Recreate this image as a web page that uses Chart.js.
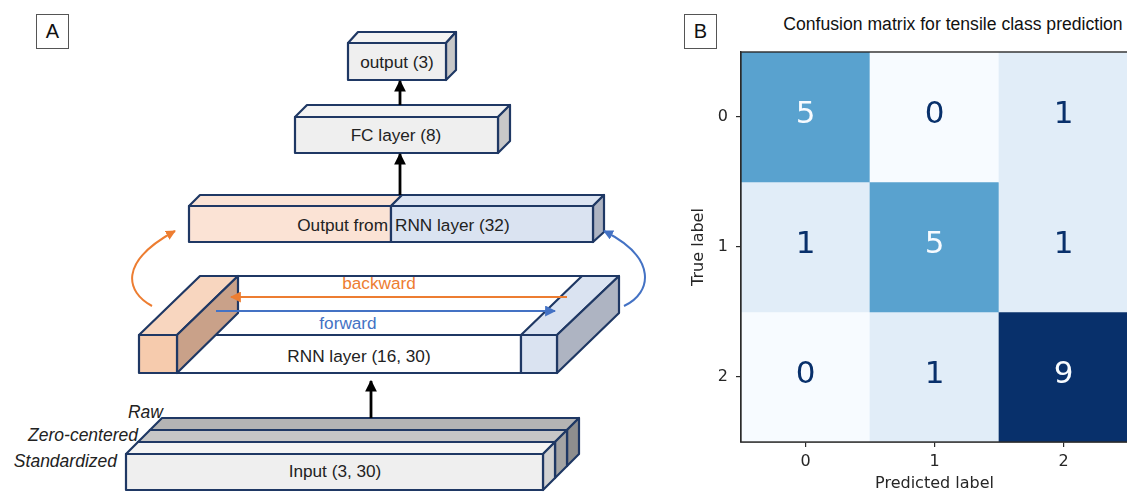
<!DOCTYPE html>
<html>
<head>
<meta charset="utf-8">
<script src="https://cdn.jsdelivr.net/npm/chart.js@4.4.1/dist/chart.umd.min.js"></script>
<style>
  html, body { margin: 0; padding: 0; background: #fff; }
  body { width: 1127px; height: 492px; overflow: hidden; position: relative; }
  #diagram { position: absolute; left: 0; top: 0; }
  #panelB { position: absolute; left: 660px; top: 0; }
  .tag { position: absolute; width: 33px; height: 35px; border: 1px solid #555; box-sizing: border-box;
         font: 20px "Liberation Sans", Arial, sans-serif; color: #111; text-align: center; line-height: 33px; }
  #cmTitle { position: absolute; top: 14px; left: 780px; width: 346px; text-align: center; white-space: nowrap;
             font: 17.6px "Liberation Sans", Arial, sans-serif; color: #111; }
</style>
</head>
<body>

<!-- Panel A: network architecture sketch -->
<svg id="diagram" width="660" height="492" xmlns="http://www.w3.org/2000/svg"
     font-family="Liberation Sans, Arial, sans-serif" font-size="17.2" fill="#222">
  <defs>
    <marker id="hBlack" viewBox="0 0 10 10" refX="9" refY="5" markerWidth="4.2" markerHeight="4.2" orient="auto">
      <path d="M0,0 L10,5 L0,10 z" fill="#000"/>
    </marker>
    <marker id="hOrange" viewBox="0 0 10 10" refX="9" refY="5" markerWidth="5" markerHeight="5" orient="auto">
      <path d="M0,0 L10,5 L0,10 z" fill="#ed7d31"/>
    </marker>
    <marker id="hBlue" viewBox="0 0 10 10" refX="9" refY="5" markerWidth="5" markerHeight="5" orient="auto">
      <path d="M0,0 L10,5 L0,10 z" fill="#4472c4"/>
    </marker>
  </defs>

  <g stroke="#1f3864" stroke-width="2.2" stroke-linejoin="round">
    <!-- output (3) -->
    <polygon points="348,43 358,32 456,32 446,43" fill="#f3f3f3"/>
    <polygon points="446,43 456,32 456,70 446,80" fill="#c8c8c8"/>
    <rect x="348" y="43" width="98" height="37" fill="#efefef"/>

    <!-- FC layer (8) -->
    <polygon points="295,117 307,105 510,105 498,117" fill="#f3f3f3"/>
    <polygon points="498,117 510,105 510,141 498,153" fill="#c8c8c8"/>
    <rect x="295" y="117" width="203" height="36" fill="#efefef"/>

    <!-- Output from RNN layer (32) -->
    <polygon points="189,206 200,195 402,195 391,206" fill="#fbe3d5"/>
    <polygon points="391,206 402,195 604,195 593,206" fill="#dce4f2"/>
    <polygon points="593,206 604,195 604,232 593,242" fill="#aeb4c2"/>
    <rect x="189" y="206" width="202" height="36" fill="#fbe3d5"/>
    <rect x="391" y="206" width="202" height="36" fill="#dae3f1"/>

    <!-- RNN layer (16, 30) -->
    <line x1="238" y1="276" x2="582" y2="276"/>
    <rect x="177" y="335" width="344" height="38" fill="#fff"/>
    <polygon points="139,335 200,276 238,276 177,335" fill="#f8d6bf"/>
    <polygon points="177,335 238,276 238,313 177,373" fill="#c9a189"/>
    <rect x="139" y="335" width="38" height="38" fill="#f6cbad"/>
    <polygon points="521,335 582,276 619,276 557,335" fill="#dae3f1"/>
    <polygon points="557,335 619,276 619,313 557,373" fill="#aeb4c2"/>
    <rect x="521" y="335" width="36" height="38" fill="#dae3f1"/>

    <!-- Input (3, 30): Raw, Zero-centered, Standardized slabs -->
    <polygon points="150,430 162,418 579,418 567,430" fill="#b4b4b4"/>
    <polygon points="567,430 579,418 579,454 567,466" fill="#8e8e8e"/>
    <rect x="150" y="430" width="417" height="36" fill="#b4b4b4"/>
    <polygon points="138,442 150,430 567,430 555,442" fill="#c6c6c6"/>
    <polygon points="555,442 567,430 567,466 555,478" fill="#a4a4a4"/>
    <rect x="138" y="442" width="417" height="36" fill="#c6c6c6"/>
    <polygon points="126,454 138,442 555,442 543,454" fill="#f4f4f4"/>
    <polygon points="543,454 555,442 555,478 543,490" fill="#d2d2d2"/>
    <rect x="126" y="454" width="417" height="36" fill="#efefef"/>
  </g>

  <!-- direction arrows inside the RNN layer -->
  <line x1="567" y1="297" x2="231" y2="297" stroke="#ed7d31" stroke-width="2.2" marker-end="url(#hOrange)"/>
  <line x1="216" y1="311" x2="555" y2="311" stroke="#4472c4" stroke-width="2.2" marker-end="url(#hBlue)"/>
  <path d="M152,306 C126,292 118,262 175,231" fill="none" stroke="#ed7d31" stroke-width="2" marker-end="url(#hOrange)"/>
  <path d="M624,306 C652,293 658,258 604,231" fill="none" stroke="#4472c4" stroke-width="2" marker-end="url(#hBlue)"/>

  <!-- data flow arrows -->
  <g stroke="#000" stroke-width="2.8" marker-end="url(#hBlack)">
    <line x1="400" y1="105" x2="400" y2="81"/>
    <line x1="400" y1="195" x2="400" y2="154"/>
    <line x1="371" y1="418" x2="371" y2="381"/>
  </g>

  <!-- labels -->
  <g dominant-baseline="central">
    <text x="397" y="62" text-anchor="middle">output (3)</text>
    <text x="396" y="135" text-anchor="middle">FC layer (8)</text>
    <text x="388" y="225" text-anchor="end">Output from</text>
    <text x="395" y="225">RNN layer (32)</text>
    <text x="379" y="283" text-anchor="middle" fill="#ed7d31">backward</text>
    <text x="348" y="323" text-anchor="middle" fill="#4472c4">forward</text>
    <text x="359" y="356" text-anchor="middle">RNN layer (16, 30)</text>
    <text x="335" y="471" text-anchor="middle">Input (3, 30)</text>
    <g font-style="italic" text-anchor="end" font-size="17.5">
      <text x="163" y="412">Raw</text>
      <text x="138" y="435">Zero-centered</text>
      <text x="117" y="461">Standardized</text>
    </g>
  </g>
</svg>

<div class="tag" style="left:36px; top:14px;">A</div>
<div class="tag" style="left:684px; top:14px;">B</div>
<div id="cmTitle">Confusion matrix for tensile class prediction</div>

<!-- Panel B: confusion matrix -->
<canvas id="panelB" width="480" height="492"></canvas>

<script>
// Class labels (ticks on both axes)
const classLabels = ['0', '1', '2'];
// Confusion matrix counts: rows = true label, columns = predicted label
const rowTrue0 = [5, 0, 1];
const rowTrue1 = [1, 5, 1];
const rowTrue2 = [0, 1, 9];
const confusionRows = [rowTrue0, rowTrue1, rowTrue2];

const maxCount = Math.max(...confusionRows.flat());

// matplotlib "Blues" colormap stops
const bluesStops = [
  [247, 251, 255], [222, 235, 247], [198, 219, 239], [158, 202, 225], [107, 174, 214],
  [66, 146, 198], [33, 113, 181], [8, 81, 156], [8, 48, 107]
];
function blues(t) {
  t = Math.min(1, Math.max(0, t));
  const pos = t * (bluesStops.length - 1);
  const i = Math.min(bluesStops.length - 2, Math.floor(pos));
  const f = pos - i;
  const a = bluesStops[i], b = bluesStops[i + 1];
  const c = a.map((v, k) => Math.round(v + (b[k] - v) * f));
  return `rgb(${c[0]},${c[1]},${c[2]})`;
}

// One floating-bar dataset per true-label row; each bar spans one row band
const datasets = confusionRows.map((row, r) => ({
  label: 'true ' + classLabels[r],
  data: row.map(() => [r - 0.5, r + 0.5]),
  counts: row,
  backgroundColor: row.map(v => blues(v / maxCount)),
  borderWidth: 0,
  borderSkipped: false,
  grouped: false,
  barPercentage: 1.0,
  categoryPercentage: 1.0
}));

const tickFont = { family: 'DejaVu Sans', size: 16 };
const titleFont = { family: 'DejaVu Sans', size: 16, lineHeight: 1 };
const spine = '#2b2b2b';

// Writes the count in every cell and draws the closed frame around the matrix
const cellLabels = {
  id: 'cellLabels',
  afterDatasetsDraw(chart) {
    const ctx = chart.ctx;
    ctx.save();
    ctx.font = '31px "DejaVu Sans"';
    ctx.textAlign = 'center';
    ctx.textBaseline = 'middle';
    chart.data.datasets.forEach((ds, r) => {
      chart.getDatasetMeta(r).data.forEach((bar, c) => {
        const v = ds.counts[c];
        const p = bar.getCenterPoint();
        ctx.fillStyle = v > maxCount / 2 ? '#f7fbff' : '#08306b';
        ctx.fillText(String(v), p.x, p.y - 2);
      });
    });
    const a = chart.chartArea;
    ctx.strokeStyle = spine;
    ctx.lineWidth = 1.4;
    ctx.strokeRect(a.left, a.top, a.right - a.left, a.bottom - a.top);
    ctx.restore();
  }
};

new Chart(document.getElementById('panelB'), {
  type: 'bar',
  data: { labels: classLabels, datasets },
  options: {
    responsive: false,
    animation: false,
    devicePixelRatio: 1,
    layout: { padding: { top: 52, right: 12, left: 0, bottom: 0 } },
    plugins: { legend: { display: false }, tooltip: { enabled: false }, title: { display: false } },
    scales: {
      x: {
        type: 'category',
        offset: true,
        grid: { display: true, drawOnChartArea: false, drawTicks: true, tickLength: 5, offset: false, color: spine, lineWidth: 1.2 },
        border: { display: true, color: spine, width: 1.4 },
        ticks: { font: tickFont, color: '#262626', padding: 5, maxRotation: 0 },
        title: { display: true, text: 'Predicted label', font: titleFont, color: '#262626', padding: { top: 0, bottom: 0 } },
        afterFit(scale) { scale.height = 50; }
      },
      y: {
        type: 'linear',
        min: -0.5,
        max: 2.5,
        reverse: true,
        afterBuildTicks(scale) { scale.ticks = classLabels.map((_, i) => ({ value: i })); },
        grid: { display: true, drawOnChartArea: false, drawTicks: true, tickLength: 5, color: spine, lineWidth: 1.2 },
        border: { display: true, color: spine, width: 1.4 },
        ticks: { font: tickFont, color: '#262626', padding: 8, callback: v => classLabels[v] },
        title: { display: true, text: 'True label', font: titleFont, color: '#262626', padding: { top: 31, bottom: 0 } },
        afterFit(scale) { scale.width = 81; }
      }
    }
  },
  plugins: [cellLabels]
});
</script>
</body>
</html>
